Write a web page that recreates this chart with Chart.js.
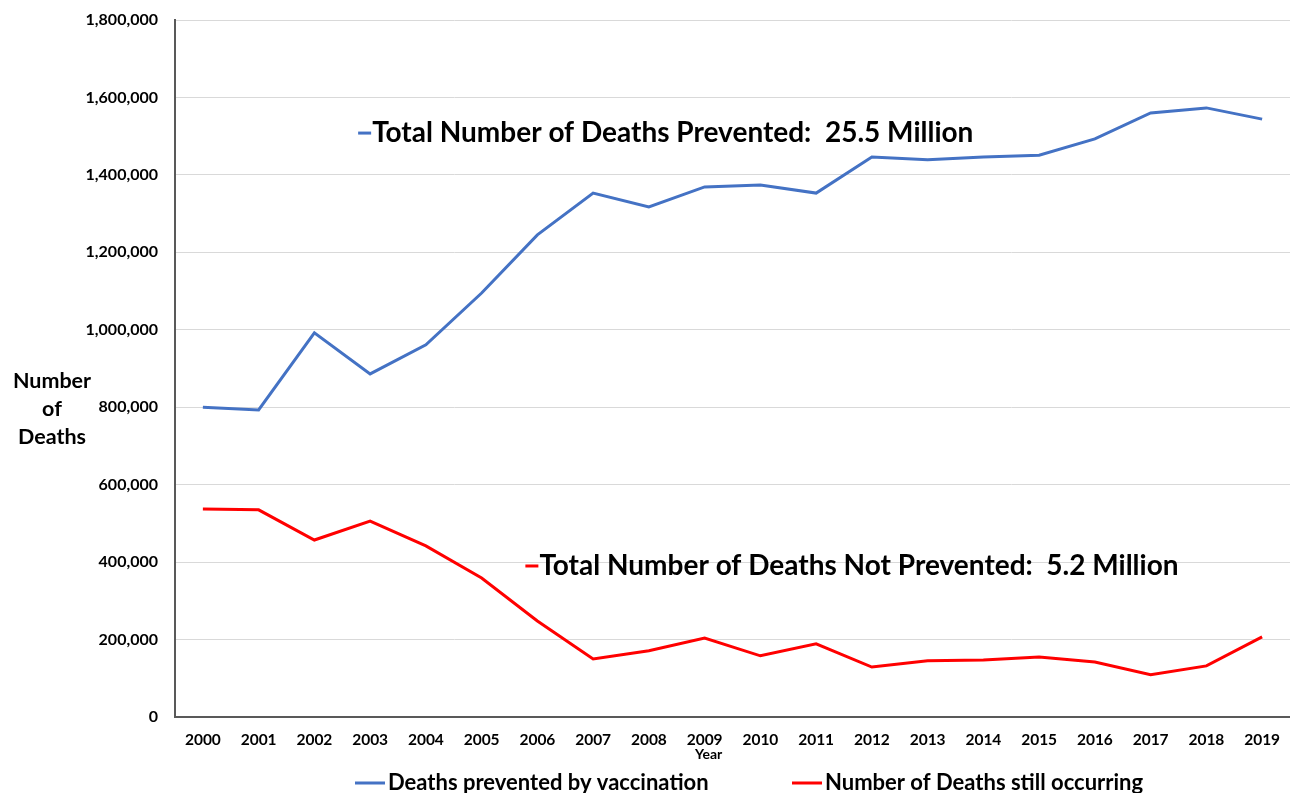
<!DOCTYPE html>
<html lang="en">
<head>
  <meta charset="UTF-8">
  <title>Deaths prevented by vaccination</title>
  <script src="https://cdn.jsdelivr.net/npm/chart.js"></script>
  <style>
    body { margin: 0; padding: 0; background: #fff; }
    canvas { display: block; }
  </style>
</head>
<body>
  <canvas id="chart" width="1290" height="793"></canvas>
  <script>
    // data
    const years = ['2000','2001','2002','2003','2004','2005','2006','2007','2008','2009',
                   '2010','2011','2012','2013','2014','2015','2016','2017','2018','2019'];
    const prevented = [800000, 793000, 992000, 886000, 961000, 1095000, 1245000, 1353000, 1317000, 1369000,
                       1374000, 1353000, 1446000, 1439000, 1446000, 1451000, 1493000, 1560000, 1573000, 1544000];
    const stillOccurring = [537000, 535000, 457000, 506000, 442000, 359000, 248000, 150000, 171000, 204000,
                            158000, 189000, 129000, 145000, 147000, 155000, 142000, 109000, 132000, 207000];
    const yTicks = [0, 200000, 400000, 600000, 800000, 1000000, 1200000, 1400000, 1600000, 1800000];

    const FONT = 'Lato, "Open Sans", sans-serif';
    const BLUE = '#4472C4';
    const RED = '#FF0000';

    // text on the chart: y axis title, "Year", the two totals and the legend
    const textPlugin = {
      id: 'textPlugin',
      afterDraw(chart) {
        const ctx = chart.ctx;
        const x = chart.scales.x, y = chart.scales.y;
        ctx.save();
        ctx.fillStyle = '#000';
        ctx.textBaseline = 'middle';

        ctx.font = 'bold 21.5px ' + FONT;
        ctx.textAlign = 'center';
        ['Number', 'of', 'Deaths'].forEach((t, i) => ctx.fillText(t, 52, 381 + i * 28));

        ctx.font = 'bold 14px ' + FONT;
        ctx.fillText('Year', x.getPixelForValue(9) + 4, 754);

        const notes = [
          { text: 'Total Number of Deaths Prevented:  25.5 Million', idx: 3, val: 1508000, color: BLUE },
          { text: 'Total Number of Deaths Not Prevented:  5.2 Million', idx: 6, val: 390000, color: RED }
        ];
        ctx.font = 'bold 28px ' + FONT;
        ctx.textAlign = 'left';
        notes.forEach(n => {
          const px = x.getPixelForValue(n.idx) + 2;
          const py = y.getPixelForValue(n.val);
          ctx.fillStyle = n.color;
          ctx.fillRect(px - 14, py - 1.5, 13, 3);
          ctx.fillStyle = '#000';
          ctx.fillText(n.text, px, py);
        });

        // legend
        const legendX = [355, 792];
        ctx.font = 'bold 22px ' + FONT;
        chart.data.datasets.forEach((ds, i) => {
          ctx.fillStyle = ds.borderColor;
          ctx.fillRect(legendX[i], 781.5, 30, 3);
          ctx.fillStyle = '#000';
          ctx.fillText(ds.label, legendX[i] + 33, 783);
        });
        ctx.restore();
      }
    };

    new Chart(document.getElementById('chart'), {
      type: 'line',
      data: {
        labels: years,
        datasets: [
          { label: 'Deaths prevented by vaccination', data: prevented,
            borderColor: BLUE, backgroundColor: BLUE, borderWidth: 3, pointRadius: 0, tension: 0 },
          { label: 'Number of Deaths still occurring', data: stillOccurring,
            borderColor: RED, backgroundColor: RED, borderWidth: 3, pointRadius: 0, tension: 0 }
        ]
      },
      options: {
        responsive: false,
        animation: false,
        devicePixelRatio: 1,
        layout: { padding: { top: 20, right: 0, left: 0, bottom: 0 } },
        plugins: {
          legend: { display: false },
          tooltip: { enabled: false }
        },
        scales: {
          x: {
            offset: true,
            grid: { display: false, drawTicks: false },
            border: { color: '#595959', width: 2 },
            ticks: { color: '#000', padding: 14, maxRotation: 0, font: { family: FONT, size: 15.5, weight: 'bold' } },
            afterFit(s) { s.height = 76; s.paddingLeft = 0; s.paddingRight = 0; }
          },
          y: {
            min: 0,
            max: 1800000,
            afterBuildTicks(s) { s.ticks = yTicks.map(v => ({ value: v })); },
            grid: { drawTicks: false, color: '#D9D9D9', lineWidth: 1 },
            border: { color: '#595959', width: 2 },
            ticks: {
              color: '#000',
              padding: 17,
              font: { family: FONT, size: 16, weight: 'bold' },
              callback: v => v.toLocaleString('en-US')
            },
            afterFit(s) { s.width = 175; s.paddingTop = 0; s.paddingBottom = 0; }
          }
        }
      },
      plugins: [textPlugin]
    });
  </script>
</body>
</html>
